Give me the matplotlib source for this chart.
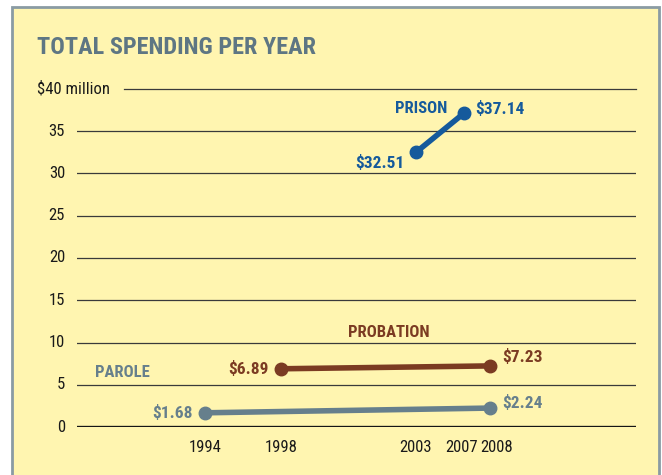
import matplotlib
matplotlib.use("Agg")
import matplotlib.pyplot as plt
from matplotlib import font_manager
from matplotlib.patches import Rectangle

# ---- data ----
parole_years = [1994, 2008]
parole_values = [1.68, 2.24]
probation_years = [1998, 2008]
probation_values = [6.89, 7.23]
prison_years = [2003, 2007]
prison_values = [32.51, 37.14]
year_ticks = [1994, 1998, 2003, 2007, 2008]
y_ticks = [0, 5, 10, 15, 20, 25, 30, 35]
title = "TOTAL SPENDING PER YEAR"

# ---- fonts ----
avail = {f.name for f in font_manager.fontManager.ttflist}
fam = None
for cand in ["Liberation Sans Narrow", "DejaVu Sans Condensed", "Roboto Condensed", "Open Sans Condensed", "Liberation Sans"]:
    if cand in avail:
        fam = cand
        break
if fam is None:
    fam = "DejaVu Sans"
plt.rcParams['font.family'] = [fam, 'DejaVu Sans']

# layout: non-uniform year positions (pixel offsets inside axes)
year_pos = {1994: 128, 1998: 204, 2003: 339, 2007: 387, 2008: 413}
def xp(years):
    return [year_pos[y] for y in years]

BG = "#FFF5B0"
C_PRISON = "#155A9C"
C_PROB = "#7B3B22"
C_PAROLE = "#667F8C"
C_TITLE = "#5E7683"

W, H = 662, 475
fig = plt.figure(figsize=(W / 100, H / 100), dpi=100)
fig.patch.set_facecolor("white")

# frame
fig.patches.append(Rectangle((12 / W, -0.05), (659 - 12) / W, (H - 7) / H + 0.05,
                             transform=fig.transFigure, facecolor=BG,
                             edgecolor="#8A9BA3", linewidth=2, zorder=-5))

ax_left, ax_right = 77, 636
ax_bottom, ax_top = 427, 89
ax = fig.add_axes([ax_left / W, (H - ax_bottom) / H, (ax_right - ax_left) / W, (ax_bottom - ax_top) / H])
ax.set_zorder(2)
ax.set_facecolor("none")
ax.set_xlim(0, ax_right - ax_left)
ax.set_ylim(0, 40)
for s in ax.spines.values():
    s.set_visible(False)
ax.set_xticks([])
ax.set_yticks([])

# gridlines
for v in y_ticks[1:]:
    ax.axhline(v, color="#3a3a3a", lw=0.9, zorder=1)
ax.axhline(0, color="#151515", lw=2.4, zorder=1)
ax.plot([124 - ax_left, ax_right - ax_left], [40, 40], color="#3a3a3a", lw=0.9, clip_on=False, zorder=1)

# y tick labels
for v in y_ticks:
    ax.text(-12, v, str(v), ha="right", va="center", fontsize=12, color="#1a1a1a")
ax.text(-40, 40, "$40 million", ha="left", va="center", fontsize=12, color="#1a1a1a")

# x labels
xlabel_shift = {2008: 7, 2007: -2}
for y in year_ticks:
    ax.text(year_pos[y] + xlabel_shift.get(y, 0), -1.5, str(y), ha="center", va="top", fontsize=12, color="#1a1a1a")

# series
kw = dict(lw=4, marker="o", markersize=9, solid_capstyle="butt", zorder=3, clip_on=False)
ax.plot(xp(parole_years), parole_values, color=C_PAROLE, **kw)
ax.plot(xp(probation_years), probation_values, color=C_PROB, **kw)
ax.plot(xp(prison_years), prison_values, color=C_PRISON, **kw)

bold = dict(fontsize=12.5, fontweight="bold")
# value labels
ax.text(xp(parole_years)[0] - 12, parole_values[0], f"${parole_values[0]:.2f}", ha="right", va="center", color=C_PAROLE, **bold)
ax.text(xp(parole_years)[1] + 12, parole_values[1] + 0.6, f"${parole_values[1]:.2f}", ha="left", va="center", color=C_PAROLE, **bold)
ax.text(xp(probation_years)[0] - 12, probation_values[0], f"${probation_values[0]:.2f}", ha="right", va="center", color=C_PROB, **bold)
ax.text(xp(probation_years)[1] + 12, probation_values[1] + 1.0, f"${probation_values[1]:.2f}", ha="left", va="center", color=C_PROB, **bold)
ax.text(xp(prison_years)[0] - 11, prison_values[0] - 1.3, f"${prison_values[0]:.2f}", ha="right", va="center", color=C_PRISON, **bold)
ax.text(xp(prison_years)[1] + 11, prison_values[1] + 0.5, f"${prison_values[1]:.2f}", ha="left", va="center", color=C_PRISON, **bold)

# series names
ax.text(395 - ax_left, 37.7, "PRISON", ha="left", va="center", color=C_PRISON, fontsize=12, fontweight="bold")
ax.text(348 - ax_left, 11.2, "PROBATION", ha="left", va="center", color=C_PROB, fontsize=12, fontweight="bold")
ax.text(95 - ax_left, 6.4, "PAROLE", ha="left", va="center", color=C_PAROLE, fontsize=12, fontweight="bold")

# title
fig.text(37 / W, (H - 48) / H, title, ha="left", va="center", fontsize=17.5, fontweight="bold", color=C_TITLE)

fig.savefig("out.png", dpi=100, facecolor=fig.get_facecolor())
